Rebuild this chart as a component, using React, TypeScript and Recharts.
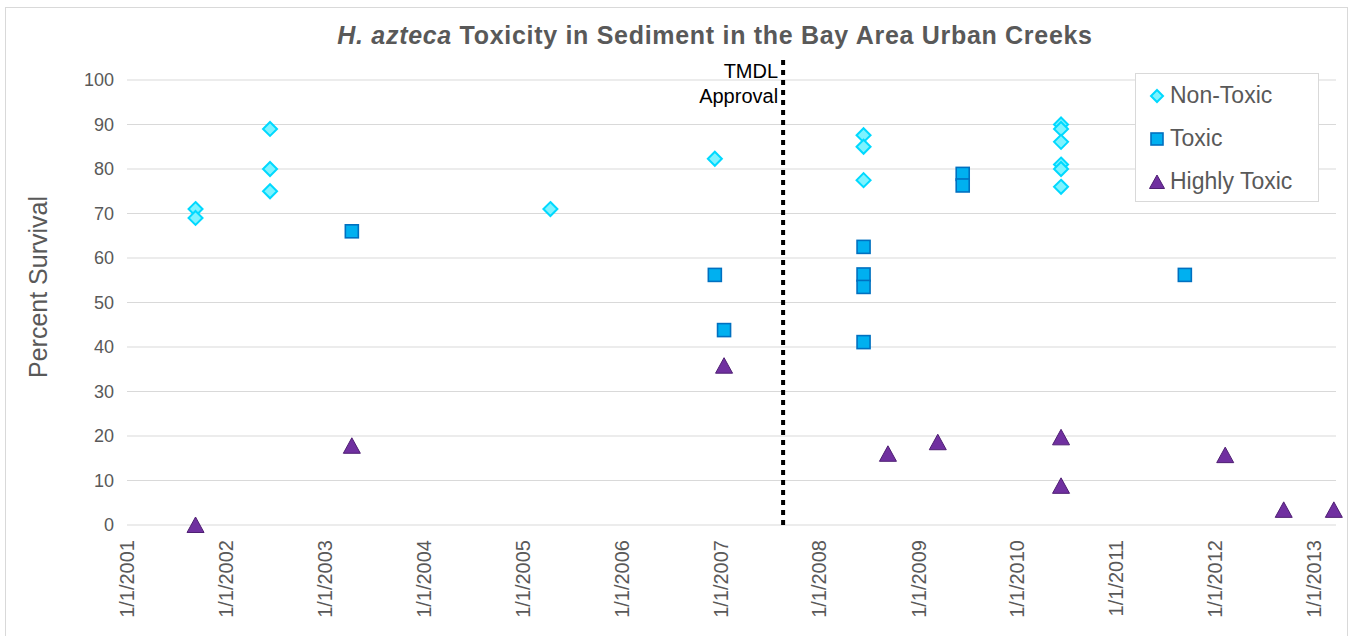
import React from "react"
import { ScatterChart, Scatter, XAxis, YAxis, CartesianGrid, ReferenceLine, Legend } from "recharts"

const FONT = '"Liberation Sans", Arial, sans-serif'
const GREY = "#595959"

// sample dates (ISO) and percent survival, one pair of arrays per class
const nonToxicDates = [
  "2001-09-11", "2001-09-11",
  "2002-06-13", "2002-06-13", "2002-06-13",
  "2005-04-13",
  "2006-12-11",
  "2008-06-12", "2008-06-12", "2008-06-12",
  "2010-06-11", "2010-06-11", "2010-06-11", "2010-06-11", "2010-06-11", "2010-06-11",
]
const nonToxicValues = [71, 69, 89, 80, 75, 71, 82.3, 87.6, 85, 77.5, 90, 89, 86.1, 81, 80, 76]

const toxicDates = [
  "2003-04-11",
  "2006-12-11",
  "2007-01-14",
  "2008-06-12", "2008-06-12", "2008-06-12", "2008-06-12",
  "2009-06-13", "2009-06-13",
  "2011-09-11",
]
const toxicValues = [66, 56.2, 43.8, 62.5, 56.3, 53.5, 41.1, 78.9, 76.3, 56.2]

const highlyToxicDates = [
  "2001-09-11",
  "2003-04-11",
  "2007-01-14",
  "2008-09-10",
  "2009-03-13",
  "2010-06-11", "2010-06-11",
  "2012-02-07",
  "2012-09-10",
  "2013-03-14",
]
const highlyToxicValues = [0, 17.8, 35.8, 16, 18.6, 19.7, 8.8, 15.7, 3.4, 3.4]

const seriesNames = ["Non-Toxic", "Toxic", "Highly Toxic"]
const yearTicks = [2001, 2002, 2003, 2004, 2005, 2006, 2007, 2008, 2009, 2010, 2011, 2012, 2013]
const yTicks = [0, 10, 20, 30, 40, 50, 60, 70, 80, 90, 100]

const TMDL_DATE = "2007-08-20"
const X_MIN = Date.UTC(2001, 0, 1)
const X_MAX = Date.UTC(2013, 2, 22)

const toTime = (d: string) => Date.parse(d + "T00:00:00Z")
const build = (dates: string[], values: number[]) => dates.map((d, i) => ({ x: toTime(d), y: values[i] }))

const nonToxic = build(nonToxicDates, nonToxicValues)
const toxic = build(toxicDates, toxicValues)
const highlyToxic = build(highlyToxicDates, highlyToxicValues)

function DiamondMark({ cx, cy, r = 7 }: any) {
  return <path d={`M${cx},${cy - r}L${cx + r},${cy}L${cx},${cy + r}L${cx - r},${cy}Z`} fill="#7DF3FF" stroke="#00D9FF" strokeWidth={2} />
}

function SquareMark({ cx, cy, r = 6.5 }: any) {
  return <rect x={cx - r} y={cy - r} width={r * 2} height={r * 2} fill="#00B0F0" stroke="#0070C0" strokeWidth={1.6} />
}

function TriangleMark({ cx, cy, r = 8 }: any) {
  return <path d={`M${cx},${cy - r}L${cx + r + 0.5},${cy + r - 0.5}L${cx - r - 0.5},${cy + r - 0.5}Z`} fill="#7030A0" stroke="#4F1F73" strokeWidth={1} />
}

function XTick({ x, y, payload }: any) {
  const yr = new Date(payload.value).getUTCFullYear()
  return (
    <g transform={`translate(${x},${y})`}>
      <text transform="rotate(-90)" textAnchor="end" dy="0.35em" fill={GREY} fontSize={20} fontFamily={FONT}>
        {`1/1/${yr}`}
      </text>
    </g>
  )
}

function TmdlLabel({ viewBox }: any) {
  const x = viewBox.x - 5
  const y = viewBox.y
  return (
    <text textAnchor="end" fill="#000" fontSize={20} fontFamily={FONT}>
      <tspan x={x} y={y + 18}>TMDL</tspan>
      <tspan x={x} y={y + 43}>Approval</tspan>
    </text>
  )
}

const legendMarks: Record<string, (cx: number, cy: number) => React.ReactNode> = {
  "Non-Toxic": (cx, cy) => <DiamondMark cx={cx} cy={cy} r={6} />,
  "Toxic": (cx, cy) => <SquareMark cx={cx} cy={cy} r={6} />,
  "Highly Toxic": (cx, cy) => <TriangleMark cx={cx} cy={cy} r={7} />,
}

function LegendBox({ payload }: any) {
  const items = [...(payload || [])].sort((a: any, b: any) => seriesNames.indexOf(a.value) - seriesNames.indexOf(b.value))
  return (
    <div style={{ width: 184, height: 129, border: "1px solid #d9d9d9", background: "#fff", boxSizing: "border-box", paddingTop: 0 }}>
      {items.map((p: any) => (
        <div key={p.value} style={{ display: "flex", alignItems: "center", height: 43, paddingLeft: 12 }}>
          <svg width={18} height={18} style={{ marginRight: 4 }}>
            {legendMarks[p.value]?.(9, 9)}
          </svg>
          <span style={{ fontFamily: FONT, fontSize: 23, color: GREY }}>{p.value}</span>
        </div>
      ))}
    </div>
  )
}

export default function App() {
  return (
    <div style={{ position: "absolute", left: 0, top: 0, width: 1351, height: 636, background: "#fff", overflow: "hidden" }}>
      <div style={{ position: "absolute", left: 5, top: 7, width: 1343, height: 660, border: "1px solid #d9d9d9", boxSizing: "border-box" }} />
      <div style={{ position: "absolute", left: 0, top: 0 }}>
        <ScatterChart width={1351} height={636} margin={{ top: 80, right: 15, bottom: 0, left: 0 }}>
          <CartesianGrid vertical={false} stroke="#d9d9d9" strokeWidth={1.2} />
          <XAxis
            type="number"
            dataKey="x"
            domain={[X_MIN, X_MAX]}
            ticks={yearTicks.map(y => Date.UTC(y, 0, 1))}
            tick={<XTick />}
            tickLine={false}
            axisLine={false}
            tickSize={0}
            tickMargin={15}
            height={111}
            interval={0}
          />
          <YAxis
            type="number"
            dataKey="y"
            domain={[0, 100]}
            ticks={yTicks}
            tick={{ fill: GREY, fontSize: 18, fontFamily: FONT }}
            tickLine={false}
            axisLine={false}
            tickSize={0}
            tickMargin={13}
            width={127}
            interval={0}
          />
          <ReferenceLine
            segment={[{ x: toTime(TMDL_DATE), y: 0 }, { x: toTime(TMDL_DATE), y: 104.5 }]}
            ifOverflow="visible"
            stroke="#000"
            strokeWidth={4}
            strokeDasharray="5 5"
            label={<TmdlLabel />}
          />
          <Scatter name="Non-Toxic" data={nonToxic} shape={<DiamondMark />} fill="#7DF3FF" isAnimationActive={false} />
          <Scatter name="Toxic" data={toxic} shape={<SquareMark />} fill="#00B0F0" isAnimationActive={false} />
          <Scatter name="Highly Toxic" data={highlyToxic} shape={<TriangleMark />} fill="#7030A0" isAnimationActive={false} />
          <Legend
            layout="vertical"
            align="center"
            verticalAlign="middle"
            wrapperStyle={{ left: 1135, top: 73, width: 184, height: 129 }}
            content={<LegendBox />}
          />
        </ScatterChart>
      </div>
      <div style={{ position: "absolute", left: 0, width: 1430, top: 21, textAlign: "center", fontFamily: FONT, fontWeight: "bold", fontSize: 25, letterSpacing: 0.7, color: GREY, whiteSpace: "nowrap" }}>
        <i>H. azteca</i> Toxicity in Sediment in the Bay Area Urban Creeks
      </div>
      <div style={{ position: "absolute", left: 38, top: 287, transform: "translate(-50%, -50%) rotate(-90deg)", fontFamily: FONT, fontSize: 25, color: GREY, whiteSpace: "nowrap" }}>
        Percent Survival
      </div>
    </div>
  )
}
